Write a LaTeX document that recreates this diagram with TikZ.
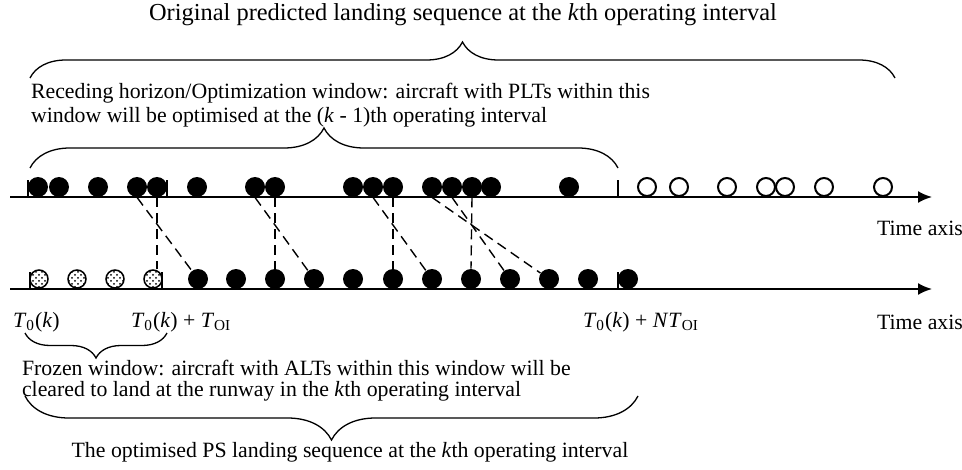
\documentclass[tikz,border=0pt]{standalone}
\usepackage{fontspec}
\setmainfont{Liberation Serif}
\usetikzlibrary{arrows.meta,decorations.pathreplacing,patterns}

\newcommand{\Tz}{\textit{T}\textsubscript{0}(\textit{k})}
\newcommand{\Toi}{\textit{T}\textsubscript{OI}}

\tikzset{
	plane/.style={circle, fill=black, inner sep=0pt, minimum size=10pt},
	future/.style={circle, draw, line width=1pt, inner sep=0pt, minimum size=9pt},
	frozen/.style={circle, draw, line width=0.75pt, pattern=crosshatch dots, inner sep=0pt, minimum size=9pt},
	timeaxis/.style={line width=1pt, -{Latex[length=7pt,width=6pt]}},
	stopbar/.style={line width=1.3pt},
	moved/.style={dash pattern=on 5pt off 3pt, line width=0.7pt},
	wbrace/.style={decorate, decoration={brace, amplitude=#1}, line width=0.65pt},
}

\begin{document}
\begin{tikzpicture}[x=0.5pt, y=-0.5pt, font=\fontsize{10.9}{12}\selectfont]
	\useasboundingbox (0,0) rectangle (962,470);

	% time axes
	\coordinate (top0) at (10,197);
	\coordinate (top1) at (932,197);
	\coordinate (bot0) at (10,289);
	\coordinate (bot1) at (932,289);
	\draw[timeaxis] (top0) -- (top1);
	\draw[timeaxis] (bot0) -- (bot1);
	\node[anchor=west] (ax1) at (870,228) {Time axis};
	\node[anchor=west] (ax2) at (870,322) {Time axis};

		% predicted landing times
		\node	(p1) at (38,187) [plane] {};
		\node	(p2) at (59,187) [plane] {};
		\node	(p3) at (98,187) [plane] {};
		\node	(p4) at (137,187) [plane] {};
		\node	(p5) at (157,187) [plane] {};
		\node	(p6) at (197,187) [plane] {};
		\node	(p7) at (255,187) [plane] {};
		\node	(p8) at (275,187) [plane] {};
		\node	(p9) at (353,187) [plane] {};
		\node	(p10) at (373,187) [plane] {};
		\node	(p11) at (393,187) [plane] {};
		\node	(p12) at (432,187) [plane] {};
		\node	(p13) at (452,187) [plane] {};
		\node	(p14) at (472,187) [plane] {};
		\node	(p15) at (491,187) [plane] {};
		\node	(p16) at (569,187) [plane] {};
		\node	(o1) at (647,187) [future] {};
		\node	(o2) at (679,187) [future] {};
		\node	(o3) at (727,187) [future] {};
		\node	(o4) at (766,187) [future] {};
		\node	(o5) at (785,187) [future] {};
		\node	(o6) at (824,187) [future] {};
		\node	(o7) at (883,187) [future] {};

		% optimised landing times
		\node	(f1) at (39,279) [frozen] {};
		\node	(f2) at (77,279) [frozen] {};
		\node	(f3) at (115,279) [frozen] {};
		\node	(f4) at (153,279) [frozen] {};
		\node	(s1) at (198,279) [plane] {};
		\node	(s2) at (236,279) [plane] {};
		\node	(s3) at (275,279) [plane] {};
		\node	(s4) at (314,279) [plane] {};
		\node	(s5) at (353,279) [plane] {};
		\node	(s6) at (393,279) [plane] {};
		\node	(s7) at (432,279) [plane] {};
		\node	(s8) at (471,279) [plane] {};
		\node	(s9) at (510,279) [plane] {};
		\node	(s10) at (549,279) [plane] {};
		\node	(s11) at (588,279) [plane] {};
		\node	(s12) at (628,279) [plane] {};

	% window limits
	\draw[stopbar] (28,197) -- (28,180);
	\draw[stopbar] (167,197) -- (167,180);
	\draw[stopbar] (618,197) -- (618,180);
	\draw[stopbar] (30,289) -- (30,272);
	\draw[stopbar] (162,289) -- (162,272);
	\draw[stopbar] (618,289) -- (618,272);

	\draw
	(p4.south) edge[moved] (s1)
	(p5.south) edge[moved] (p5.south |- f4.north)
	(p7.south) edge[moved] (s4)
	(p8.south) edge[moved] (s3.north)
	(p10.south) edge[moved] (s7)
	(p11.south) edge[moved] (s6.north)
	(p12.south) edge[moved] (s10)
	(p13.south) edge[moved] (s9)
	(p14.south) edge[moved] (s8.north)
	;

	% braces and texts
	\draw[wbrace=18pt] (30,78) -- (895,78);
	\node[font=\fontsize{12.2}{14}\selectfont] (orig) at (463,15) {Original predicted landing sequence at the \textit{k}th operating interval};
	\node[anchor=west, align=left] (rh) at (24,105) {Receding horizon/Optimization window: aircraft with PLTs within this\\window will be optimised at the (\textit{k} - 1)th operating interval};
	\draw[wbrace=20pt] (30,168) -- (618,168);

	\node[anchor=west] (t0) at (6,322) {\Tz};
	\node[anchor=west] (t1) at (124,322) {\Tz{} + \Toi};
	\node[anchor=west] (tn) at (576,322) {\Tz{} + \textit{N}\Toi};
	\draw[wbrace=12.5pt, decoration={mirror}] (25,333) -- (167,333);
	\node[anchor=west, align=left, font=\fontsize{10.9}{10.4}\selectfont] (fw) at (15,381) {Frozen window: aircraft with ALTs within this window will be\\cleared to land at the runway in the \textit{k}th operating interval};
	\draw[wbrace=22pt, decoration={mirror}] (25,396) -- (638,396);
	\node (opt) at (350,452) {The optimised PS landing sequence at the \textit{k}th operating interval};
\end{tikzpicture}
\end{document}
